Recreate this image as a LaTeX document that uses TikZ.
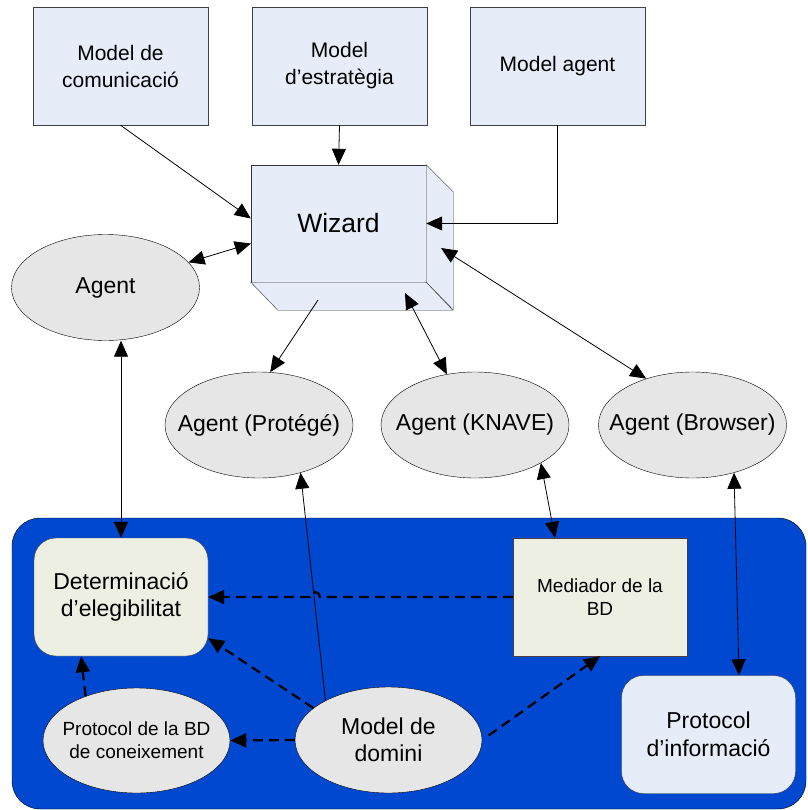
\documentclass[tikz,border=0pt]{standalone}
\usepackage{fontspec}
\setmainfont{Liberation Sans}
\usetikzlibrary{arrows.meta, shapes.geometric}
\definecolor{boxblue}{RGB}{230,236,248}
\definecolor{ellgray}{RGB}{230,230,230}
\definecolor{beige}{RGB}{238,239,227}
\definecolor{regionblue}{RGB}{0,72,208}
\begin{document}
\begin{tikzpicture}[x=1pt, y=-1pt, >={Triangle[length=16pt,width=14pt]},
    model/.style={rectangle, draw=black!75, fill=boxblue, minimum width=175pt, minimum height=118pt, align=center, font=\fontsize{21}{27}\selectfont},
    agentell/.style={ellipse, draw, fill=ellgray, minimum width=188pt, minimum height=106pt, inner sep=0pt},
    lbl/.style={align=center, font=\fontsize{23}{27}\selectfont},
    smalllbl/.style={align=center, font=\fontsize{19}{23}\selectfont},
    dbbox/.style={rectangle, draw=black!75, fill=beige, minimum width=174pt, minimum height=118pt},
    link/.style={line width=0.8pt},
    dep/.style={line width=2.2pt, dash pattern=on 10pt off 6pt}]
    \useasboundingbox (0,0) rectangle (807,810);
    % region of the knowledge base
    \draw [fill=regionblue, rounded corners=28pt] (12,518) rectangle (806,809);
    % models and wizard
    \node [model] (mcom) at (120.5,66) {Model de\\comunicació};
    \node [model] (mest) at (339.5,66) {Model\\d’estratègia};
    \node [model] (magent) at (557.5,66) {Model agent};
    \node [rectangle, draw=black!80, fill=boxblue, minimum width=175pt, minimum height=117pt, font=\fontsize{26.5}{30}\selectfont] (wizard) at (338.5,223.5) {Wizard};
    \filldraw [draw=black!80, fill=boxblue] (wizard.north east) -- ++(27,27) -- ++(0,118) -- (wizard.south east) -- cycle;
    \filldraw [draw=black!80, fill=boxblue] (wizard.south west) -- ++(27,28) -- ++(175,0) -- (wizard.south east) -- cycle;
    \coordinate (wzb1) at (318,300);
    \coordinate (wzb2) at (405,293);
    \coordinate (wzs) at (441,248);
    % agents
    \node [agentell, label={[lbl]center:Agent}] (agent) at (105.5,287.5) {};
    \node [agentell, label={[lbl]center:Agent (Protégé)}] (protege) at (259,425) {};
    \node [agentell, label={[lbl]center:Agent (KNAVE)}] (knave) at (475,425) {};
    \node [agentell, label={[lbl]center:Agent (Browser)}] (browser) at (692.5,425) {};
    % inside the region
    \node [dbbox, rounded corners=22pt, lbl] (det) at (121,597) {Determinació\\d’elegibilitat};
    \node [dbbox, smalllbl] (med) at (600,597) {Mediador de la\\BD};
    \node [dbbox, fill=boxblue, rounded corners=22pt, lbl, font=\fontsize{23}{28}\selectfont] (pinfo) at (708.5,734.5) {Protocol\\d’informació};
    \node [agentell, minimum width=187pt, minimum height=105pt, label={[smalllbl]center:Protocol de la BD\\de coneixement}] (pbd) at (136.5,740.5) {};
    \node [agentell, minimum width=187pt, minimum height=106pt, label={[lbl]center:Model de\\domini}] (domini) at (388.5,740) {};
    % connectors
    \draw [link, ->] (mcom.south) -- ([yshift=5pt]wizard.west);
    \draw [link, ->] (mest.south) -- (wizard.north);
    \draw [link, ->] (magent.south) |- (wizard.east);
    \draw [link, <->] (agent) -- ([yshift=-20pt]wizard.west);
    \draw [link, ->] (wzb1) -- (protege.78);
    \draw [link, <->] (wzb2) -- (knave.119);
    \draw [link, <->] (wzs) -- (browser.135);
    \draw [link, <->] (det.north |- agent.south) -- (det.north);
    \draw [link, ->] (domini.148) -- (protege.-49);
    \draw [link, <->] (knave.-30) -- ([xshift=-45pt]med.north);
    \draw [link, <->] (browser.-49) -- ([xshift=30.5pt]pinfo.north);
    \draw [dep, ->] (med.west) -- (320,597) arc [start angle=0, end angle=-180, radius=5] -- (det.east);
    \draw [dep, ->] (domini.157) -- ([yshift=18pt]det.south east);
    \draw [dep, ->] (pbd.139) -- ([xshift=-40pt]det.south);
    \draw [dep, ->] (domini.west) -- (pbd.east);
    \draw [dep, ->, shorten <=8pt] (domini.east) -- (med.south);
\end{tikzpicture}
\end{document}
